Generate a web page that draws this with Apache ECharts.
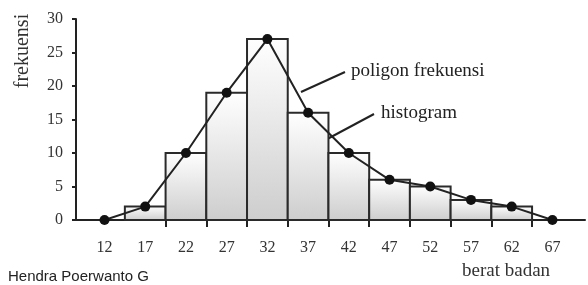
<!DOCTYPE html>
<html>
<head>
<meta charset="utf-8">
<script src="https://cdn.jsdelivr.net/npm/echarts@6/dist/echarts.min.js"></script>
<style>
  html, body { margin: 0; padding: 0; background: #fff; }
  #chart { width: 588px; height: 285px; }
</style>
</head>
<body>
<div id="chart"></div>
<script>
// titik tengah kelas & frekuensi
const midPoints = [12, 17, 22, 27, 32, 37, 42, 47, 52, 57, 62, 67]
const frekuensi = [0, 2, 10, 19, 27, 16, 10, 6, 5, 3, 2, 0]
// batas kelas (tick di sumbu x)
const classBounds = [19.5, 24.5, 29.5, 34.5, 39.5, 44.5, 49.5, 54.5, 59.5, 64.5]
const yTicks = [0, 5, 10, 15, 20, 25, 30]

const serif = 'Liberation Serif'
const chart = echarts.init(document.getElementById('chart'))

// histogram: only classes with frequency > 0
const histData = midPoints
  .map((m, i) => [m, frekuensi[i]])
  .filter(d => d[1] > 0)

const option = {
  animation: false,
  grid: { left: 76, right: 3, top: 19, bottom: 65 },
  xAxis: {
    type: 'value',
    min: 8.5,
    max: 71,
    splitLine: { show: false },
    axisLine: { lineStyle: { color: '#222', width: 2 } },
    axisTick: {
      show: true,
      customValues: classBounds,
      length: 7,
      lineStyle: { color: '#222', width: 2 }
    },
    axisLabel: {
      customValues: midPoints,
      margin: 20,
      color: '#333',
      fontFamily: serif,
      fontSize: 16
    }
  },
  yAxis: {
    type: 'value',
    min: 0,
    max: 30,
    interval: 5,
    splitLine: { show: false },
    axisLine: { show: true, lineStyle: { color: '#222', width: 2 } },
    axisTick: { show: true, length: 4, lineStyle: { color: '#222', width: 2 } },
    axisLabel: {
      customValues: yTicks,
      margin: 13,
      color: '#333',
      fontFamily: serif,
      fontSize: 16
    }
  },
  series: [
    {
      type: 'custom',
      data: histData,
      z: 2,
      renderItem: (params, api) => {
        const x = api.value(0)
        const y = api.value(1)
        const p1 = api.coord([x - 2.5, y])
        const p2 = api.coord([x + 2.5, 0])
        return {
          type: 'rect',
          shape: { x: p1[0], y: p1[1], width: p2[0] - p1[0], height: p2[1] - p1[1] },
          style: {
            fill: new echarts.graphic.LinearGradient(0, 0, 0, 1, [
              { offset: 0, color: '#ffffff' },
              { offset: 1, color: '#cdcdcd' }
            ]),
            stroke: '#2a2a2a',
            lineWidth: 2
          }
        }
      }
    },
    {
      type: 'line',
      data: midPoints.map((m, i) => [m, frekuensi[i]]),
      z: 3,
      symbol: 'circle',
      symbolSize: 10,
      itemStyle: { color: '#111' },
      lineStyle: { color: '#222', width: 2 }
    }
  ],
  graphic: [
    {
      type: 'text',
      x: 13, y: 51,
      rotation: Math.PI / 2,
      style: { text: 'frekuensi', fontFamily: serif, fontSize: 20, fill: '#333', textAlign: 'center' }
    },
    {
      type: 'line',
      shape: { x1: 345, y1: 72, x2: 301, y2: 92 },
      style: { stroke: '#222', lineWidth: 2 }
    },
    {
      type: 'text',
      x: 351, y: 62,
      style: { text: 'poligon frekuensi', fontFamily: serif, fontSize: 19, fill: '#222' }
    },
    {
      type: 'line',
      shape: { x1: 374, y1: 114, x2: 303, y2: 152 },
      style: { stroke: '#222', lineWidth: 2 }
    },
    {
      type: 'text',
      x: 381, y: 104,
      style: { text: 'histogram', fontFamily: serif, fontSize: 19, fill: '#222' }
    },
    {
      type: 'text',
      x: 462, y: 262,
      style: { text: 'berat badan', fontFamily: serif, fontSize: 19, fill: '#333' }
    },
    {
      type: 'text',
      x: 8, y: 269,
      style: { text: 'Hendra Poerwanto G', fontFamily: 'Liberation Sans', fontSize: 15, fill: '#222' }
    }
  ]
}

chart.setOption(option)
</script>
</body>
</html>
